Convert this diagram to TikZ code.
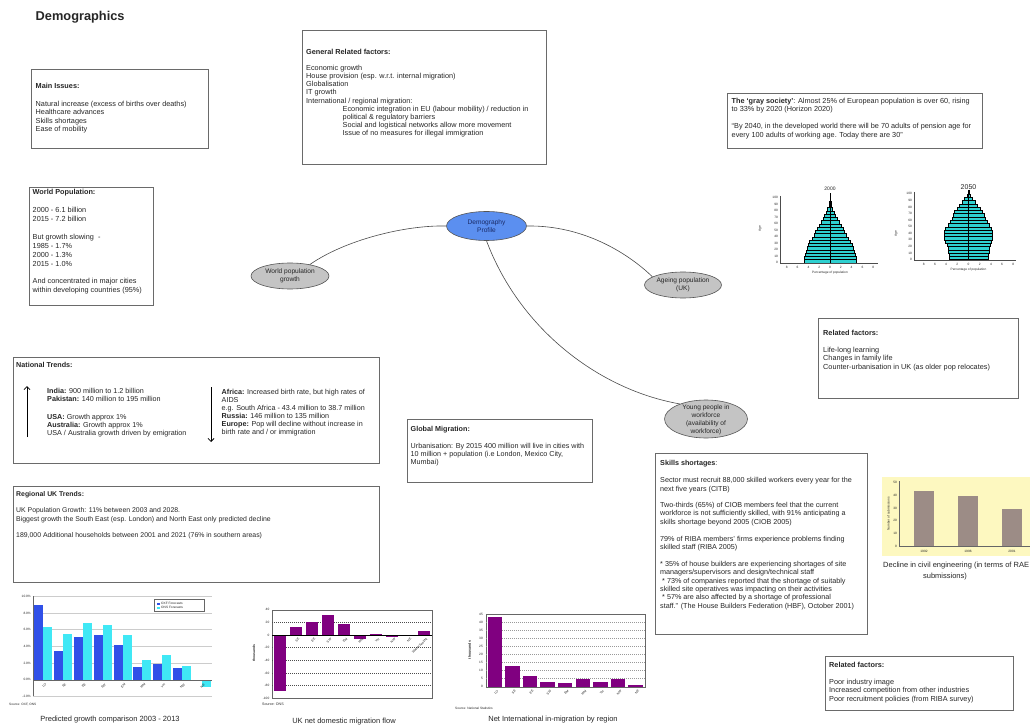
\documentclass[tikz,border=0pt]{standalone}
\usepackage{fontspec}
\setmainfont{Liberation Sans}
\usetikzlibrary{shapes.geometric,arrows.meta}
\definecolor{boxline}{HTML}{6A6A6A}
\definecolor{txt}{HTML}{262626}
\definecolor{dpblue}{HTML}{5B8FF0}
\definecolor{navy}{HTML}{1A2A66}
\definecolor{ellgray}{HTML}{C4C4C4}
\definecolor{ellline}{HTML}{555555}
\definecolor{linkc}{HTML}{4A4A4A}
\definecolor{pyrcyan}{HTML}{2ED0D0}
\definecolor{oxfblue}{HTML}{3050E8}
\definecolor{onscyan}{HTML}{40E8F5}
\definecolor{purp}{HTML}{800080}
\definecolor{civbg}{HTML}{FDF8C0}
\definecolor{civbar}{HTML}{9C8C86}
\newcommand{\fntT}{\fontsize{3.2}{3.6}\selectfont}
\newcommand{\fntC}{\fontsize{7.5}{9}\selectfont}
\newcommand{\fntE}{\fontsize{6.6}{8}\selectfont}
\begin{document}
\begin{tikzpicture}[x=1pt,y=-1pt,
  boxst/.style={draw=boxline,line width=0.8pt},
  tn/.style={anchor=north west,inner sep=0pt,align=left,text=txt},
  ell/.style={ellipse,draw=ellline,line width=0.6pt,inner sep=0pt,align=center,font=\fntE,text=txt},
  link/.style={draw=linkc,line width=0.6pt},
  tick/.style={inner sep=0pt,font=\fntT,text=txt},
  capt/.style={inner sep=0pt,font=\fntC,text=txt},
  arrowst/.style={draw=black,line width=0.8pt,-{Straight Barb[length=3pt,width=6pt]}},
  pyr/.style={fill=pyrcyan,draw=black,line width=0.3pt},
]
\useasboundingbox (0,0) rectangle (1030,727);
\fill[white] (0,0) rectangle (1030,727);

% Title
\node[anchor=west,inner sep=0pt,font=\fontsize{12.8}{14}\selectfont\bfseries,text=txt] (title) at (35.5,17) {Demographics};

% Main issues
\draw[boxst] (31,69) rectangle (208,148);
\node[tn,font={\fontsize{7.3}{8.6}\selectfont}] (mi) at (35.5,83.5)
 {\textbf{Main Issues:}\\[8.6pt]
  Natural increase (excess of births over deaths)\\
  Healthcare advances\\
  Skills shortages\\
  Ease of mobility};

% General related factors
\draw[boxst] (302,30) rectangle (546,164);
\node[tn,font={\fontsize{7.3}{8.1}\selectfont}] (grf) at (306,49)
 {\textbf{General Related factors:}\\[8.1pt]
  Economic growth\\
  House provision (esp. w.r.t. internal migration)\\
  Globalisation\\
  IT growth\\
  International / regional migration:\\
  \hspace*{36.5pt}Economic integration in EU (labour mobility) / reduction in\\
  \hspace*{36.5pt}political \& regulatory barriers\\
  \hspace*{36.5pt}Social and logistical networks allow more movement\\
  \hspace*{36.5pt}Issue of no measures for illegal immigration};

% World population
\draw[boxst] (29,187) rectangle (153,305);
\node[tn,font={\fontsize{7.3}{8.9}\selectfont}] (wpop) at (32.5,189.5)
 {\textbf{World Population:}\\[8.9pt]
  2000 - 6.1 billion\\
  2015 - 7.2 billion\\[8.9pt]
  But growth slowing\ \ -\\
  1985 - 1.7\%\\
  2000 - 1.3\%\\
  2015 - 1.0\%\\[8.9pt]
  And concentrated in major cities\\
  within developing countries (95\%)};

% Gray society
\draw[boxst] (727,93) rectangle (982,148);
\node[tn,font={\fontsize{7.3}{8.5}\selectfont}] (gray) at (731.5,98)
 {\textbf{The ‘gray society’}: Almost 25\% of European population is over 60, rising\\
  to 33\% by 2020 (Horizon 2020)\\[8.5pt]
  “By 2040, in the developed world there will be 70 adults of pension age for\\
  every 100 adults of working age. Today there are 30”};

% Pyramid 2000
\foreach \w [count=\i from 0] in {4.8,4.75,4.6,4.5,4.3,4.1,3.8,3.4,3.0,2.7,2.4,2.0,1.7,1.3,1.0,0.7,0.45,0.25,0.12,0.05,0.02}
  \filldraw[pyr] ({830-\w*5.4},{262.7-\i*3.25}) rectangle ({830+\w*5.4},{262.7-(\i+1)*3.25});
\draw[line width=0.5pt] (830,262.7) -- (830,193.5);
\draw[line width=0.3pt,black!70] (780,196) -- (780,263) -- (878,263);
\foreach \a [count=\k] in {0,10,...,100}
  \node[tick,anchor=east] (pa\k) at (778,{262.7-\a*0.65}) {\a};
\foreach \t/\xx [count=\k] in {8/-8,6/-6,4/-4,2/-2,0/0,2/2,4/4,6/6,8/8}
  \node[tick] (pb\k) at ({830+\xx*5.4},267.5) {\t};
\node[tick,rotate=90] (page) at (760,229) {Age};
\node[tick] (pperc) at (830,273) {Percentage of population};
\node[inner sep=0pt,font=\fontsize{5}{6}\selectfont,text=txt] (py1) at (830,188.5) {2000};

% Pyramid 2050
\foreach \w [count=\i from 0] in {3.5,3.5,3.6,3.7,3.9,4.1,4.3,4.3,4.3,4.1,3.7,3.3,3.0,2.8,2.5,2.0,1.6,1.2,0.7,0.3,0.1}
  \filldraw[pyr] ({968.5-\w*5.6},{259.5-\i*3.28}) rectangle ({968.5+\w*5.6},{259.5-(\i+1)*3.28});
\draw[line width=0.5pt] (968.5,259.5) -- (968.5,190.5);
\draw[line width=0.3pt,black!70] (914,192) -- (914,260.5) -- (1016,260.5);
\foreach \a [count=\k] in {0,10,...,100}
  \node[tick,anchor=east] (qa\k) at (912,{259.5-\a*0.656}) {\a};
\foreach \t/\xx [count=\k] in {8/-8,6/-6,4/-4,2/-2,0/0,2/2,4/4,6/6,8/8}
  \node[tick] (qb\k) at ({968.5+\xx*5.6},264.5) {\t};
\node[tick,rotate=90] (qage) at (896,234) {Age};
\node[tick] (qperc) at (968.5,269.5) {Percentage of population};
\node[inner sep=0pt,font=\fontsize{7}{8}\selectfont,text=txt] (py2) at (968.5,187) {2050};

% Related factors (ageing)
\draw[boxst] (818,318) rectangle (1018,398);
\node[tn,font={\fontsize{7.3}{8.5}\selectfont}] (rf1) at (823,330)
 {\textbf{Related factors:}\\[8.5pt]
  Life-long learning\\
  Changes in family life\\
  Counter-urbanisation in UK (as older pop relocates)};

% Ellipses
\node[ell,fill=dpblue,minimum width=80pt,minimum height=29pt,text=navy] (dp) at (486.5,226) {Demography\\Profile};
\node[ell,fill=ellgray,minimum width=78pt,minimum height=26pt] (wp) at (290,276) {World population\\growth};
\node[ell,fill=ellgray,minimum width=77pt,minimum height=26pt] (ap) at (683,285) {Ageing population\\(UK)};
\node[ell,fill=ellgray,minimum width=83pt,minimum height=38pt] (yp) at (706,419) {};
\node[inner sep=0pt,align=center,font=\fntE,text=txt] (yptext) at (706,419.5) {Young people in\\workforce\\(availability of\\workforce)};

\draw[link] (dp.west) .. controls (405,225) and (345,240) .. (wp.30);
\draw[link] (dp.east) .. controls (585,225) and (630,255) .. (ap.165);
\draw[link] (dp.south) .. controls (520,330) and (600,390) .. (yp.150);

% National trends
\draw[boxst] (13,357) rectangle (379,463);
\node[tn,font={\fontsize{7.2}{8}\selectfont}] (nt) at (16,362) {\textbf{National Trends:}};
\coordinate (ua1) at (27,437); \coordinate (ua2) at (27,386);
\draw[arrowst] (ua1) -- (ua2);
\node[tn,font={\fontsize{7.2}{7.8}\selectfont}] (ntl) at (47,388)
 {\textbf{India:} 900 million to 1.2 billion\\
  \textbf{Pakistan:} 140 million to 195 million\\[10.4pt]
  \textbf{USA:} Growth approx 1\%\\
  \textbf{Australia:} Growth approx 1\%\\
  USA / Australia growth driven by emigration};
\coordinate (da1) at (211,387); \coordinate (da2) at (211,442);
\draw[arrowst] (da1) -- (da2);
\node[tn,font={\fontsize{7.2}{8}\selectfont}] (ntr) at (221.5,389)
 {\textbf{Africa:} Increased birth rate, but high rates of\\
  AIDS\\
  e.g. South Africa - 43.4 million to 38.7 million\\
  \textbf{Russia:} 146 million to 135 million\\
  \textbf{Europe:} Pop will decline without increase in\\
  birth rate and / or immigration};

% Global migration
\draw[boxst] (407,419) rectangle (592,482);
\node[tn,font={\fontsize{7.2}{8}\selectfont}] (gm) at (410.5,426)
 {\textbf{Global Migration:}\\[9pt]
  Urbanisation: By 2015 400 million will live in cities with\\
  10 million + population (i.e London, Mexico City,\\
  Mumbai)};

% Skills shortages
\draw[boxst] (655,453) rectangle (867,634);
\node[tn,font={\fontsize{7.2}{8.4}\selectfont}] (ss) at (660,460.5)
 {\textbf{Skills shortages}:\\[8.4pt]
  Sector must recruit 88,000 skilled workers every year for the\\
  next five years (CITB)\\[8pt]
  Two-thirds (65\%) of CIOB members feel that the current\\
  workforce is not sufficiently skilled, with 91\% anticipating a\\
  skills shortage beyond 2005 (CIOB 2005)\\[8.4pt]
  79\% of RIBA members’ firms experience problems finding\\
  skilled staff (RIBA 2005)\\[8.4pt]
  * 35\% of house builders are experiencing shortages of site\\
  managers/supervisors and design/technical staff\\
  \ * 73\% of companies reported that the shortage of suitably\\
  skilled site operatives was impacting on their activities\\
  \ * 57\% are also affected by a shortage of professional\\
  staff.” (The House Builders Federation (HBF), October 2001)};

% Civil engineering chart
\fill[civbg] (882,477) rectangle (1030,556);
\draw[line width=0.3pt,black!60] (899,481) -- (899,546) -- (1030,546);
\foreach \v [count=\k] in {0,10,...,50}
  \node[tick,anchor=east] (cvy\k) at (897,{546-\v*1.27}) {\v};
\fill[civbar] (914,546) rectangle (934,{546-43*1.27});
\fill[civbar] (958,546) rectangle (978,{546-39*1.27});
\fill[civbar] (1002,546) rectangle (1022,{546-29*1.27});
\node[tick] (cvx1) at (924,551.5) {1992};
\node[tick] (cvx2) at (968,551.5) {1996};
\node[tick] (cvx3) at (1012,551.5) {2001};
\node[tick,rotate=90] (cvlab) at (888.5,514) {Number of submissions};
\node[capt,anchor=west] (cap4a) at (883,566) {Decline in civil engineering (in terms of RAE};
\node[capt] (cap4b) at (945,577) {submissions)};

% Related factors (skills)
\draw[boxst] (825,656) rectangle (1013,710);
\node[tn,font={\fontsize{7.3}{8.5}\selectfont}] (rf2) at (829,662)
 {\textbf{Related factors:}\\[8.5pt]
  Poor industry image\\
  Increased competition from other industries\\
  Poor recruitment policies (from RIBA survey)};

% Regional UK trends
\draw[boxst] (13,486) rectangle (379,582);
\node[tn,font={\fontsize{6.9}{8.3}\selectfont}] (ruk) at (16,491)
 {\textbf{Regional UK Trends:}\\[8.3pt]
  UK Population Growth: 11\% between 2003 and 2028.\\
  Biggest growth the South East (esp. London) and North East only predicted decline\\[8.3pt]
  189,000 Additional households between 2001 and 2021 (76\% in southern areas)};

% Chart 1: predicted growth
\foreach \v in {-2,0,2,4,6,8,10}
  \draw[black!20,line width=0.3pt] (33.3,{679.7-\v*8.35}) -- (212,{679.7-\v*8.35});
\foreach \a/\b [count=\i from 0] in {9.0/6.3,3.4/5.5,5.1/6.8,5.3/6.6,4.2/5.3,1.5/2.4,1.9/2.9,1.4/1.6,-0.2/-0.9}{
  \fill[oxfblue] ({34.3+19.8*\i},679.7) rectangle ({43.3+19.8*\i},{679.7-\a*8.35});
  \fill[onscyan] ({43.3+19.8*\i},679.7) rectangle ({52.3+19.8*\i},{679.7-\b*8.35});
}
\draw[black!60,line width=0.3pt] (33.3,596) -- (33.3,696.4);
\draw[black!60,line width=0.3pt] (33.3,679.7) -- (212,679.7);
\foreach \v [count=\k] in {-2,0,2,4,6,8,10}
  \node[tick,anchor=east] (c1y\k) at (31,{679.7-\v*8.35}) {\v.0\%};
\foreach \l [count=\i from 0] in {LO,SE,EE,SW,EM,WM,YH,NW,NE}
  \node[tick,rotate=45,anchor=east] (c1x\i) at ({46+19.8*\i},684) {\l};
\draw[black!60,fill=white,line width=0.3pt] (154,599) rectangle (204,611);
\fill[oxfblue] (157,602.5) rectangle (159.5,605);
\fill[onscyan] (157,606.5) rectangle (159.5,609);
\node[tick,anchor=west] (lg1) at (161,603.7) {OXF Forecasts};
\node[tick,anchor=west] (lg2) at (161,607.7) {ONS Forecasts};
\node[tick,anchor=west] (src1) at (9,705) {Source: OXF, ONS};
\node[capt] (cap1) at (110,720) {Predicted growth comparison 2003 - 2013};

% Chart 2: UK net domestic migration
\draw[black!60,line width=0.3pt] (272.3,609.7) rectangle (432.3,698.3);
\foreach \v in {20,-20,-40,-60,-80}
  \draw[black!70,line width=0.4pt,dash pattern=on 1pt off 1pt] (272.3,{635-\v*0.633}) -- (432.3,{635-\v*0.633});
\foreach \v [count=\i from 0] in {-88,12,20.5,32,18,-7,1,-3,-2,6}
  \fill[purp] ({273.7+16*\i},635) rectangle ({286+16*\i},{635-\v*0.633});
\draw[black,line width=0.4pt] (272.3,635) -- (432.3,635);
\foreach \v [count=\k] in {40,20,0,-20,-40,-60,-80,-100}
  \node[tick,anchor=east] (c2y\k) at (269.5,{635-\v*0.633}) {\v};
\foreach \l [count=\i from 1] in {SE,EE,SW,EM,WM,YH,NW,NE,Wales/Scot/NI}
  \node[tick,rotate=45,anchor=east] (c2x\i) at ({283+16*\i},638.5) {\l};
\node[tick,rotate=90,font=\fontsize{3.4}{4}\selectfont\bfseries] (c2lab) at (254,653) {thousands};
\node[tick,anchor=west,font=\fontsize{3.6}{4}\selectfont] (src2) at (262,704) {Source: ONS};
\node[capt] (cap2) at (344,721.5) {UK net domestic migration flow};

% Chart 3: Net international in-migration
\draw[black!60,line width=0.3pt] (486,614) rectangle (645,686.7);
\foreach \v in {5,10,...,40}
  \draw[black!40,line width=0.3pt,dash pattern=on 1pt off 1pt] (486,{686.7-\v*1.616}) -- (645,{686.7-\v*1.616});
\foreach \v [count=\i from 0] in {43,13,6.5,3,2,5,3.2,4.5,1}
  \fill[purp] ({487.5+17.6*\i},686.7) rectangle ({502+17.6*\i},{686.7-\v*1.616});
\foreach \v [count=\k] in {0,5,...,45}
  \node[tick,anchor=east] (c3y\k) at (483,{686.7-\v*1.616}) {\v};
\foreach \l [count=\i from 0] in {LO,SE,EE,SW,EM,WM,YH,NW,NE}
  \node[tick,rotate=45,anchor=east] (c3x\i) at ({498+17.6*\i},690.5) {\l};
\node[tick,rotate=90,font=\fontsize{3.6}{4}\selectfont\bfseries] (c3lab) at (469.5,650) {thousands};
\node[tick,anchor=west,font=\fontsize{3.2}{4}\selectfont] (src3) at (455,708) {Source: National Statistics};
\node[capt] (cap3) at (553,719.5) {Net International in-migration by region};

\end{tikzpicture}
\end{document}
